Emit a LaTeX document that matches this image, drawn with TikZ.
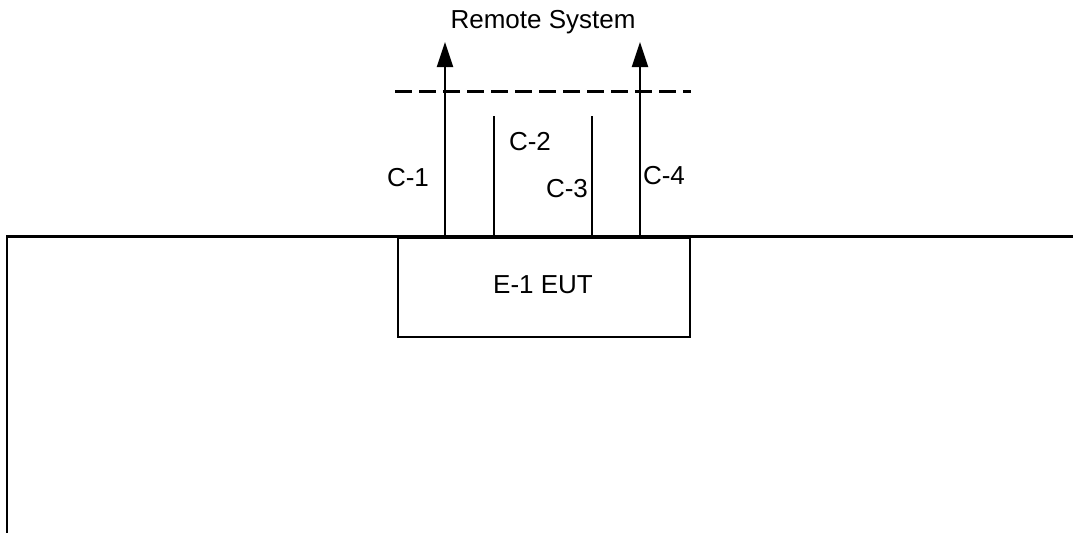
\documentclass[tikz,border=0pt]{standalone}
\usepackage{fontspec}
\setmainfont{Liberation Sans}
\usetikzlibrary{arrows.meta}
\begin{document}
\begin{tikzpicture}[x=1pt,y=-1pt,
  lbl/.style={font=\fontsize{26}{30}\selectfont, inner sep=0pt},
  wire/.style={line width=2pt},
  upwire/.style={line width=2pt, -{Triangle[length=25pt,width=16pt]}},
  boxstyle/.style={draw, line width=2pt, minimum width=292pt, minimum height=99pt, inner sep=0pt}]
\useasboundingbox (0,0) rectangle (1073,533);
% outer bench outline
\draw[line width=2.5pt] (1073,236.5) -- (7,236.5) -- (7,533);
% EUT box
\node[boxstyle, anchor=north west] (eut) at (397,236.5) {};
\node[lbl] (eutlbl) at (543,285) {E-1 EUT};
% connector coordinates
\coordinate (c1b) at (445,236.5);
\coordinate (c1t) at (445,42);
\coordinate (c2b) at (494,236.5);
\coordinate (c2t) at (494,116);
\coordinate (c3b) at (592,236.5);
\coordinate (c3t) at (592,116);
\coordinate (c4b) at (640,236.5);
\coordinate (c4t) at (640,42);
\draw[upwire] (c1b) -- (c1t);
\draw[wire] (c2b) -- (c2t);
\draw[wire] (c3b) -- (c3t);
\draw[upwire] (c4b) -- (c4t);
% boundary
\coordinate (dl) at (395,91.5);
\coordinate (dr) at (691,91.5);
\draw[line width=3pt, dash pattern=on 17pt off 7pt] (dl) -- (dr);
% labels
\node[lbl] (remote) at (543,22) {Remote System};
\node[lbl] (l1) at (408,178) {C-1};
\node[lbl] (l2) at (530,142) {C-2};
\node[lbl] (l3) at (567,189) {C-3};
\node[lbl] (l4) at (664,176) {C-4};
\end{tikzpicture}
\end{document}
